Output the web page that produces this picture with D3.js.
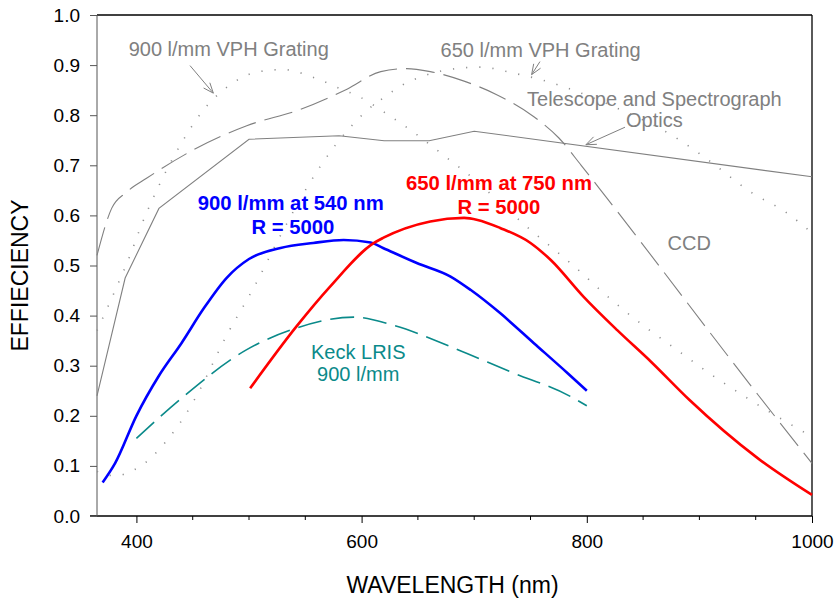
<!DOCTYPE html>
<html>
<head>
<meta charset="utf-8">
<script src="https://cdn.jsdelivr.net/npm/d3@7"></script>
<style>
  body { margin: 0; background: #fff; }
  svg text { font-family: "Liberation Sans", Arial, sans-serif; }
</style>
</head>
<body>
<svg class="chart" width="836" height="602"></svg>
<script>
// wavelength (nm) / efficiency pairs
var opticsWl  = [365, 390, 420, 500, 580, 620, 660, 700, 1000];
var opticsEff = [0.24, 0.475, 0.614, 0.752, 0.759, 0.749, 0.749, 0.768, 0.677];

var ccdWl  = [365, 378, 391, 409, 450, 498, 545, 587, 617, 640, 661, 691, 720, 753, 775, 795, 817, 952, 1000];
var ccdEff = [0.52, 0.614, 0.646, 0.674, 0.73, 0.779, 0.811, 0.852, 0.887, 0.893, 0.887, 0.868, 0.841, 0.797, 0.755, 0.7, 0.637, 0.242, 0.105];

var vph900Wl  = [365, 383, 394, 404, 421, 441, 458, 481, 507, 530, 559, 583, 597, 622, 648, 674, 688, 750, 789, 815, 852, 878, 903, 942, 1000];
var vph900Eff = [0.37, 0.46, 0.518, 0.578, 0.664, 0.748, 0.806, 0.857, 0.886, 0.891, 0.874, 0.851, 0.838, 0.803, 0.763, 0.718, 0.694, 0.571, 0.498, 0.445, 0.377, 0.335, 0.294, 0.236, 0.158];

var vph650Wl  = [365, 381, 396, 404, 419, 432, 443, 453, 480, 504, 528, 551, 577, 590, 605, 621, 636, 652, 675, 705, 735, 759, 830, 877, 907, 946, 977, 1000];
var vph650Eff = [0.089, 0.08, 0.09, 0.10, 0.13, 0.165, 0.2, 0.238, 0.36, 0.455, 0.56, 0.654, 0.741, 0.776, 0.81, 0.837, 0.86, 0.876, 0.89, 0.896, 0.884, 0.871, 0.811, 0.758, 0.712, 0.646, 0.606, 0.565];

var keckWl  = [400, 440, 498, 542, 593, 628, 679, 732, 786, 800];
var keckEff = [0.155, 0.235, 0.332, 0.375, 0.397, 0.381, 0.338, 0.288, 0.238, 0.22];

var blueWl  = [370, 381, 400, 420, 440, 460, 480, 500, 528, 557, 584, 608, 619, 649, 679, 697, 723, 753, 783, 800];
var blueEff = [0.067, 0.105, 0.2, 0.28, 0.345, 0.415, 0.475, 0.513, 0.535, 0.545, 0.551, 0.546, 0.535, 0.505, 0.478, 0.451, 0.405, 0.345, 0.285, 0.25];

var redWl  = [501, 542, 572, 611, 619, 661, 691, 703, 723, 750, 768, 797, 827, 857, 891, 952, 1000];
var redEff = [0.255, 0.378, 0.458, 0.545, 0.555, 0.588, 0.595, 0.591, 0.575, 0.545, 0.511, 0.438, 0.371, 0.308, 0.232, 0.115, 0.042];

var xMajorTicks = [400, 600, 800, 1000];
var yTicks = [0, 0.1, 0.2, 0.3, 0.4, 0.5, 0.6, 0.7, 0.8, 0.9, 1.0];

var w = 836, h = 602;
var margin = {top: 15, right: 24, bottom: 86, left: 97},
    width = w - margin.left - margin.right,
    height = h - margin.top - margin.bottom;

var svg = d3.select("svg.chart")
  .append("g")
    .attr("transform", "translate(" + margin.left + "," + margin.top + ")");

var x = d3.scaleLinear().domain([365, 1000]).range([0, width]);
var y = d3.scaleLinear().domain([0, 1]).range([height, 0]);

// frame: top and right are plain black lines
svg.append("line").attr("x1", 0).attr("x2", width).attr("y1", 0).attr("y2", 0)
  .attr("stroke", "#000").attr("stroke-width", 1.3);
svg.append("line").attr("x1", width).attr("x2", width).attr("y1", 0).attr("y2", height)
  .attr("stroke", "#000").attr("stroke-width", 1.3);

// x axis, minor ticks every 50 nm
var minorTicks = d3.range(400, 1001, 50).filter(function(d) { return xMajorTicks.indexOf(d) < 0; });
var xAxis = svg.append("g")
  .attr("transform", "translate(0," + height + ")")
  .call(d3.axisBottom(x).tickValues(xMajorTicks).tickSize(7).tickPadding(12).tickFormat(d3.format("d")));
xAxis.append("g").selectAll("line")
  .data(minorTicks).enter().append("line")
    .attr("x1", function(d) { return x(d); }).attr("x2", function(d) { return x(d); })
    .attr("y1", 0).attr("y2", 4)
    .attr("stroke", "#000");
xAxis.select(".domain").attr("d", "M-7,0H" + width).attr("stroke-width", 1.3);
xAxis.selectAll("text").style("font-size", "19px").attr("fill", "#000");

var yAxis = svg.append("g")
  .call(d3.axisLeft(y).tickValues(yTicks).tickSize(7).tickPadding(10).tickFormat(d3.format(".1f")));
yAxis.select(".domain").attr("stroke", "#555").attr("d", "M0," + height + "V0");
yAxis.selectAll(".tick line").attr("stroke", "#555");
yAxis.selectAll("text").style("font-size", "19px").attr("fill", "#000");

// axis titles
svg.append("text")
  .attr("x", width / 2 - 2).attr("y", height + 77)
  .attr("text-anchor", "middle")
  .style("font-size", "23px")
  .text("WAVELENGTH (nm)");
svg.append("text")
  .attr("transform", "translate(" + (-69) + "," + (height / 2 + 10) + ")rotate(-90)")
  .attr("text-anchor", "middle")
  .style("font-size", "23px")
  .text("EFFIECIENCY");

function pairs(wl, eff) {
  return wl.map(function(d, i) { return [d, eff[i]]; });
}

function drawCurve(wl, eff, color, sw, dash, curve) {
  var line = d3.line()
    .x(function(d) { return x(d[0]); })
    .y(function(d) { return y(d[1]); })
    .curve(curve);
  svg.append("path")
    .datum(pairs(wl, eff))
    .attr("d", line)
    .attr("fill", "none")
    .attr("stroke", color)
    .attr("stroke-width", sw)
    .attr("stroke-dasharray", dash);
}

drawCurve(opticsWl, opticsEff, "#808080", 1.1, null, d3.curveLinear);
drawCurve(ccdWl, ccdEff, "#808080", 1.1, "29,9", d3.curveMonotoneX);
drawCurve(vph900Wl, vph900Eff, "#909090", 1.6, "1.2,12", d3.curveMonotoneX);
drawCurve(vph650Wl, vph650Eff, "#909090", 1.6, "1.2,12", d3.curveMonotoneX);
drawCurve(keckWl, keckEff, "#0a8a8a", 1.6, "24,9", d3.curveMonotoneX);
drawCurve(blueWl, blueEff, "#0000ff", 2.6, null, d3.curveMonotoneX);
drawCurve(redWl, redEff, "#ff0000", 2.6, null, d3.curveMonotoneX);

// annotation text, placed in data units
var labels = [
  {t: "900 l/mm VPH Grating", wl: 482, e: 0.933, c: "#808080", b: false},
  {t: "650 l/mm VPH Grating", wl: 759, e: 0.931, c: "#808080", b: false},
  {t: "Telescope and Spectrograph", wl: 860, e: 0.833, c: "#808080", b: false},
  {t: "Optics", wl: 860, e: 0.791, c: "#808080", b: false},
  {t: "CCD", wl: 891, e: 0.545, c: "#808080", b: false},
  {t: "900 l/mm at 540 nm", wl: 537, e: 0.625, c: "#0000ff", b: true},
  {t: "R = 5000", wl: 539, e: 0.577, c: "#0000ff", b: true},
  {t: "650 l/mm at 750 nm", wl: 722, e: 0.665, c: "#ff0000", b: true},
  {t: "R = 5000", wl: 722, e: 0.617, c: "#ff0000", b: true},
  {t: "Keck LRIS", wl: 597, e: 0.3275, c: "#0a8a8a", b: false},
  {t: "900 l/mm", wl: 597, e: 0.284, c: "#0a8a8a", b: false}
];
svg.selectAll("text.lab")
  .data(labels).enter().append("text")
    .attr("class", "lab")
    .attr("x", function(d) { return x(d.wl); })
    .attr("y", function(d) { return y(d.e); })
    .attr("dy", "0.35em")
    .attr("text-anchor", "middle")
    .style("font-size", function(d) { return d.b ? "20.3px" : "20px"; })
    .style("font-weight", function(d) { return d.b ? "bold" : "normal"; })
    .attr("fill", function(d) { return d.c; })
    .text(function(d) { return d.t; });

// arrows: tail -> tip, open V heads
var arrows = [
  {wl0: 447.6, e0: 0.899, wl1: 468.3, e1: 0.844},
  {wl0: 758.4, e0: 0.907, wl1: 751.0, e1: 0.881},
  {wl0: 833.9, e0: 0.776, wl1: 799.2, e1: 0.741}
];
arrows.forEach(function(a) {
  var x0 = x(a.wl0), y0 = y(a.e0), x1 = x(a.wl1), y1 = y(a.e1);
  var ang = Math.atan2(y1 - y0, x1 - x0), len = 11, spread = 0.38;
  svg.append("line")
    .attr("x1", x0).attr("y1", y0).attr("x2", x1).attr("y2", y1)
    .attr("stroke", "#808080").attr("stroke-width", 1);
  svg.append("path")
    .attr("d", "M" + (x1 - len * Math.cos(ang - spread)) + "," + (y1 - len * Math.sin(ang - spread)) +
               "L" + x1 + "," + y1 +
               "L" + (x1 - len * Math.cos(ang + spread)) + "," + (y1 - len * Math.sin(ang + spread)))
    .attr("fill", "none")
    .attr("stroke", "#808080").attr("stroke-width", 1);
});
</script>
</body>
</html>
